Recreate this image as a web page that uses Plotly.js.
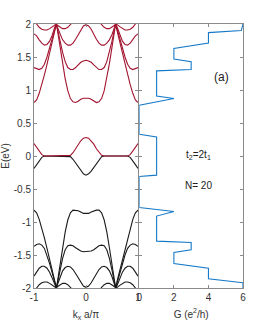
<!DOCTYPE html>
<html><head><meta charset="utf-8">
<script src="https://cdn.plot.ly/plotly-3.0.1.min.js"></script>
<style>html,body{margin:0;padding:0;background:#fff}</style>
</head><body><div id="c" style="width:266px;height:327px"></div>
<script>
const kx = [-1,-0.95,-0.9,-0.85,-0.8,-0.75,-0.7,-0.65,-0.6,-0.57,-0.55,-0.5,-0.45,-0.4,-0.35,-0.3,-0.25,-0.2,-0.15,-0.1,-0.05,0,
  0.05,0.1,0.15,0.2,0.25,0.3,0.35,0.4,0.45,0.5,0.55,0.57,0.6,0.65,0.7,0.75,0.8,0.85,0.9,0.95,1];

const redBand1 = [0.19,0.13,0.07,0.02,0,0,0,0,0,0,0,0,0,0,0,0.01,0.05,0.11,0.18,0.23,0.27,0.28,
  0.27,0.23,0.18,0.11,0.05,0.01,0,0,0,0,0,0,0,0,0,0,0,0.02,0.07,0.13,0.19];
const redBand2 = [0.81,0.85,0.95,1.08,1.23,1.39,1.55,1.72,1.89,2.0,1.91,1.65,1.40,1.17,0.99,0.87,0.82,0.81,0.83,0.86,0.875,0.88,
  0.875,0.86,0.83,0.81,0.82,0.87,0.99,1.17,1.40,1.65,1.91,2.0,1.89,1.72,1.55,1.39,1.23,1.08,0.95,0.85,0.81];
const redBand3 = [1.34,1.32,1.31,1.33,1.39,1.5,1.63,1.77,1.92,2.0,1.93,1.74,1.57,1.43,1.34,1.31,1.31,1.34,1.38,1.42,1.44,1.45,
  1.44,1.42,1.38,1.34,1.31,1.31,1.34,1.43,1.57,1.74,1.93,2.0,1.92,1.77,1.63,1.5,1.39,1.33,1.31,1.32,1.34];
const redBand4 = [1.85,1.82,1.76,1.71,1.68,1.69,1.74,1.83,1.95,2.0,1.95,1.84,1.76,1.71,1.68,1.68,1.71,1.77,1.84,1.92,1.97,1.99,
  1.97,1.92,1.84,1.77,1.71,1.68,1.68,1.71,1.76,1.84,1.95,2.0,1.95,1.83,1.74,1.69,1.68,1.71,1.76,1.82,1.85];
const redBand5 = [2.08,2.0,1.95,1.92,1.91,1.91,1.93,1.96,1.99,2.0,1.98,1.95,1.93,1.93,1.95,1.99,2.04,2.1,2.15,2.18,2.2,2.2,
  2.2,2.18,2.15,2.1,2.04,1.99,1.95,1.93,1.93,1.95,1.98,2.0,1.99,1.96,1.93,1.91,1.91,1.92,1.95,2.0,2.08];

const blackBand1 = [-0.19,-0.13,-0.07,-0.02,0,0,0,0,0,0,0,0,0,0,0,-0.01,-0.05,-0.11,-0.17,-0.23,-0.27,-0.29,
  -0.27,-0.23,-0.17,-0.11,-0.05,-0.01,0,0,0,0,0,0,0,0,0,0,0,-0.02,-0.07,-0.13,-0.19];
const blackBand2 = [-0.82,-0.86,-0.96,-1.09,-1.24,-1.40,-1.56,-1.73,-1.89,-2.0,-1.91,-1.65,-1.39,-1.15,-0.97,-0.86,-0.82,-0.82,-0.83,-0.85,-0.87,-0.87,
  -0.87,-0.85,-0.83,-0.82,-0.82,-0.86,-0.97,-1.15,-1.39,-1.65,-1.91,-2.0,-1.89,-1.73,-1.56,-1.40,-1.24,-1.09,-0.96,-0.86,-0.82];
const blackBand3 = [-1.37,-1.34,-1.33,-1.35,-1.40,-1.5,-1.63,-1.77,-1.92,-2.0,-1.93,-1.73,-1.55,-1.42,-1.36,-1.35,-1.36,-1.39,-1.42,-1.44,-1.45,-1.45,
  -1.45,-1.44,-1.42,-1.39,-1.36,-1.35,-1.36,-1.42,-1.55,-1.73,-1.93,-2.0,-1.92,-1.77,-1.63,-1.5,-1.40,-1.35,-1.33,-1.34,-1.37];
const blackBand4 = [-1.82,-1.76,-1.7,-1.67,-1.67,-1.7,-1.76,-1.85,-1.96,-2.0,-1.95,-1.83,-1.74,-1.69,-1.67,-1.68,-1.72,-1.78,-1.85,-1.92,-1.97,-1.99,
  -1.97,-1.92,-1.85,-1.78,-1.72,-1.68,-1.67,-1.69,-1.74,-1.83,-1.95,-2.0,-1.96,-1.85,-1.76,-1.7,-1.67,-1.67,-1.7,-1.76,-1.82];
const blackBand5 = [-2.08,-2.0,-1.95,-1.92,-1.91,-1.91,-1.93,-1.96,-1.99,-2.0,-1.98,-1.95,-1.93,-1.93,-1.95,-1.99,-2.04,-2.1,-2.15,-2.18,-2.2,-2.2,
  -2.2,-2.18,-2.15,-2.1,-2.04,-1.99,-1.95,-1.93,-1.93,-1.95,-1.98,-2.0,-1.99,-1.96,-1.93,-1.91,-1.91,-1.92,-1.95,-2.0,-2.08];

const condE = [2.0,1.9,1.87,1.71,1.63,1.47,1.43,1.31,1.29,0.91,0.87,0.77,0.33,0.29,-0.29,-0.31,-0.78,-0.84,-0.91,-1.29,-1.31,-1.42,-1.46,-1.63,-1.70,-1.86,-1.92,-2.0];
const condG = [6,5.9,4,4,2,2,3,3,1,1,2,0,0,1,1,0,0,2,1,1,3,3,2,2,4,4,6,6];

const yTicks = [-2,-1.5,-1,-0.5,0,0.5,1,1.5,2];
const yTickText = ['-2','-1.5','-1','-0.5','0','0.5','1','1.5','2'];
const kTicks = [-1,0,1];
const kTickText = ['-1','0','1'];
const gTicks = [0,2,4,6];
const gTickText = ['0','2','4','6'];

const RED = '#A2142F', BLK = '#1a1a1a', BLUE = '#1679c8';
const traces = [];
[blackBand1,blackBand2,blackBand3,blackBand4,blackBand5].forEach(b=>traces.push({x:kx,y:b,type:'scatter',mode:'lines',line:{color:BLK,width:1.1},xaxis:'x',yaxis:'y',hoverinfo:'skip'}));
[redBand1,redBand2,redBand3,redBand4,redBand5].forEach(b=>traces.push({x:kx,y:b,type:'scatter',mode:'lines',line:{color:RED,width:1.1},xaxis:'x',yaxis:'y',hoverinfo:'skip'}));
traces.push({x:condG,y:condE,type:'scatter',mode:'lines',line:{color:BLUE,width:1.1},xaxis:'x2',yaxis:'y2',hoverinfo:'skip',cliponaxis:false});

const FONT = 'Liberation Sans Narrow, Liberation Sans, Arial, sans-serif';
const ax = {showline:true,linecolor:'#8a8a8a',linewidth:1,mirror:'ticks',ticks:'inside',ticklen:3,tickcolor:'#8a8a8a',
  showgrid:false,zeroline:false,tickfont:{family:FONT,size:10,color:'#333'}};
const layout = {
  width:266,height:327,margin:{l:34,r:23,t:24,b:39},
  paper_bgcolor:'#fff',plot_bgcolor:'#fff',showlegend:false,
  font:{family:FONT,size:10,color:'#333'},
  xaxis:Object.assign({},ax,{domain:[0,0.4976],range:[-1,1],tickvals:kTicks,ticktext:kTickText,
    title:{text:'k<sub>x</sub> a/π',font:{family:FONT,size:10,color:'#333'},standoff:8},anchor:'y'}),
  yaxis:Object.assign({},ax,{range:[-2,2],tickvals:yTicks,ticktext:yTickText,
    title:{text:'E(eV)',font:{family:FONT,size:10,color:'#333'},standoff:4},anchor:'x'}),
  xaxis2:Object.assign({},ax,{domain:[0.504,1],range:[0,6],tickvals:gTicks,ticktext:gTickText,
    title:{text:'G (e<sup>2</sup>/h)',font:{family:FONT,size:10,color:'#333'},standoff:8},anchor:'y2'}),
  yaxis2:Object.assign({},ax,{range:[-2,2],tickvals:yTicks,showticklabels:false,anchor:'x2'}),
  annotations:[
    {xref:'x2',yref:'y2',x:4.75,y:1.2,text:'(a)',showarrow:false,font:{family:FONT,size:12,color:'#222'}},
    {xref:'x2',yref:'y2',x:3.45,y:0.02,text:'t<sub>2</sub>=2t<sub>1</sub>',showarrow:false,font:{family:FONT,size:10,color:'#222'}},
    {xref:'x2',yref:'y2',x:3.4,y:-0.44,text:'N= 20',showarrow:false,font:{family:FONT,size:10,color:'#222'}}
  ]
};
Plotly.newPlot('c',traces,layout,{displayModeBar:false,staticPlot:true});
</script></body></html>
